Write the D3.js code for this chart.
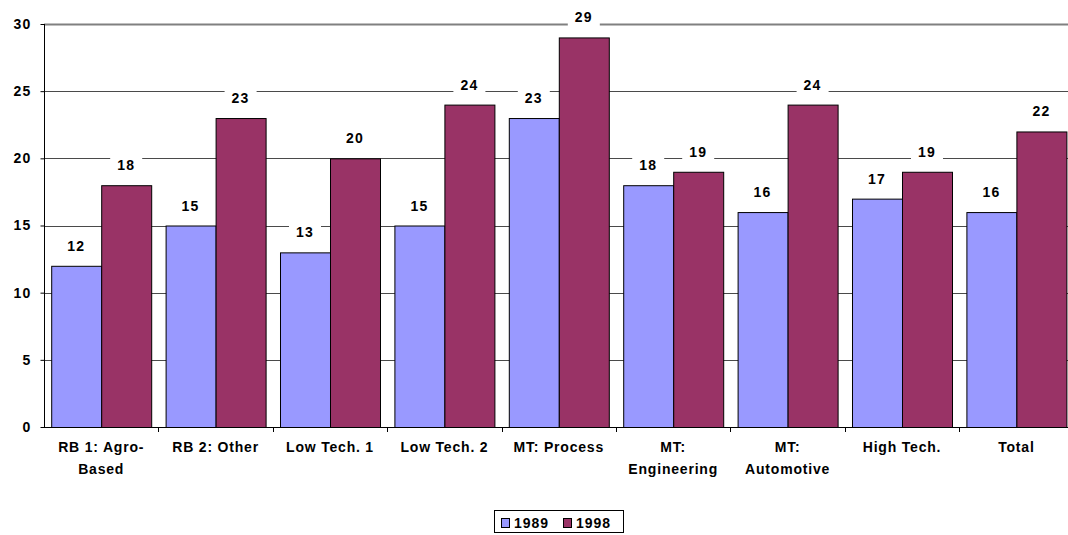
<!DOCTYPE html>
<html>
<head>
<meta charset="utf-8">
<script src="https://cdn.jsdelivr.net/npm/d3@7"></script>
<style>
  html, body { margin: 0; padding: 0; background: #fff; }
  svg { display: block; }
  text { font-family: "Liberation Sans", Arial, sans-serif; font-weight: bold; fill: #000; }
</style>
</head>
<body>
<svg id="chart" width="1068" height="535"></svg>
<script>
// Industry groups (two-line labels split on "|")
const categories = [
  "RB 1: Agro-|Based", "RB 2: Other", "Low Tech. 1", "Low Tech. 2", "MT: Process",
  "MT:|Engineering", "MT:|Automotive", "High Tech.", "Total"
];
const seriesNames = ["1989", "1998"];
const values1989 = [12, 15, 13, 15, 23, 18, 16, 17, 16];
const values1998 = [18, 23, 20, 24, 29, 19, 24, 19, 22];
const yTicks = [0, 5, 10, 15, 20, 25, 30];
const colors = ["#9999FF", "#993366"];

const svg = d3.select("#chart");
const plotLeft = 44, plotBottom = 427, plotTop = 24;
const step = 114.4;
const fontSize = 14, spacing = 0.8;

const x0 = d3.scaleBand().domain(categories).range([plotLeft, plotLeft + step * categories.length]).padding(0);
const x1 = d3.scaleBand().domain(seriesNames).range([0, x0.bandwidth()]).paddingInner(0).paddingOuter(0.144);
const y = d3.scaleLinear().domain([0, 30]).range([plotBottom, plotTop]);

const rows = categories.map((c, i) => ({ cat: c, vals: [values1989[i], values1998[i]] }));

// horizontal gridlines
svg.append("g").selectAll("line").data(yTicks.filter(t => t > 0)).join("line")
  .attr("x1", plotLeft).attr("x2", 1068)
  .attr("y1", d => Math.round(y(d)) + 0.5).attr("y2", d => Math.round(y(d)) + 0.5)
  .attr("stroke", d => d === 30 ? "#808080" : "#4a4a4a")
  .attr("stroke-width", d => d === 30 ? 2 : 1);

// bars
const groups = svg.append("g").selectAll("g").data(rows).join("g")
  .attr("transform", d => `translate(${x0(d.cat)},0)`);
groups.selectAll("rect").data(d => d.vals.map((v, k) => ({ v, k }))).join("rect")
  .attr("x", d => x1(seriesNames[d.k]) + 0.5)
  .attr("y", d => y(d.v) + 0.5)
  .attr("width", x1.bandwidth())
  .attr("height", d => y(0) - y(d.v))
  .attr("fill", d => colors[d.k])
  .attr("stroke", "#000")
  .attr("stroke-width", 1);

// value labels with white backing boxes
const labels = groups.selectAll("g.lab").data(d => d.vals.map((v, k) => ({ v, k }))).join("g")
  .attr("class", "lab")
  .attr("transform", d => `translate(${x1(seriesNames[d.k]) + x1.bandwidth() / 2},${y(d.v) - 15})`);
labels.append("rect")
  .attr("x", -16).attr("y", -14).attr("width", 32).attr("height", 18)
  .attr("fill", "#fff");
labels.append("text")
  .attr("text-anchor", "middle")
  .attr("font-size", fontSize)
  .attr("letter-spacing", 1.2)
  .text(d => d.v);

// y axis
const yAxis = d3.axisLeft(y).tickValues(yTicks).tickSize(4).tickPadding(9);
const ya = svg.append("g").attr("transform", `translate(${plotLeft + 0.5},0)`).call(yAxis);
ya.select(".domain").attr("stroke", "#000").attr("d", `M0,${plotTop}V${plotBottom + 0.5}`);
ya.selectAll(".tick line").attr("stroke", "#000");
ya.selectAll(".tick text")
  .attr("font-size", fontSize).attr("letter-spacing", 1.2)
  .attr("font-family", "Liberation Sans, Arial, sans-serif").attr("font-weight", "bold")
  .attr("fill", "#000");

// x axis baseline and boundary ticks
svg.append("line").attr("x1", plotLeft).attr("x2", 1068)
  .attr("y1", plotBottom + 0.5).attr("y2", plotBottom + 0.5).attr("stroke", "#000");
svg.append("g").selectAll("line").data(categories.slice(1)).join("line")
  .attr("x1", d => Math.round(x0(d)) + 0.5).attr("x2", d => Math.round(x0(d)) + 0.5)
  .attr("y1", plotBottom).attr("y2", plotBottom + 5).attr("stroke", "#000");

// category labels
svg.append("g").selectAll("text").data(categories).join("text")
  .attr("text-anchor", "middle")
  .attr("font-size", fontSize)
  .attr("letter-spacing", spacing)
  .attr("transform", d => `translate(${x0(d) + x0.bandwidth() / 2},452)`)
  .each(function(d) {
    const parts = d.split("|");
    d3.select(this).selectAll("tspan").data(parts).join("tspan")
      .attr("x", 0).attr("dy", (p, i) => i === 0 ? 0 : 22).text(p => p);
  });

// legend
const lg = svg.append("g");
lg.append("rect").attr("x", 494.5).attr("y", 510.5).attr("width", 129).attr("height", 22)
  .attr("fill", "#fff").attr("stroke", "#000");
const legendX = [501, 563];
seriesNames.forEach((s, k) => {
  lg.append("rect").attr("x", legendX[k] + 0.5).attr("y", 518.5).attr("width", 8).attr("height", 9)
    .attr("fill", colors[k]).attr("stroke", "#000");
  lg.append("text").attr("x", legendX[k] + 13).attr("y", 528)
    .attr("font-size", fontSize).attr("letter-spacing", 1).text(s);
});
</script>
</body>
</html>
